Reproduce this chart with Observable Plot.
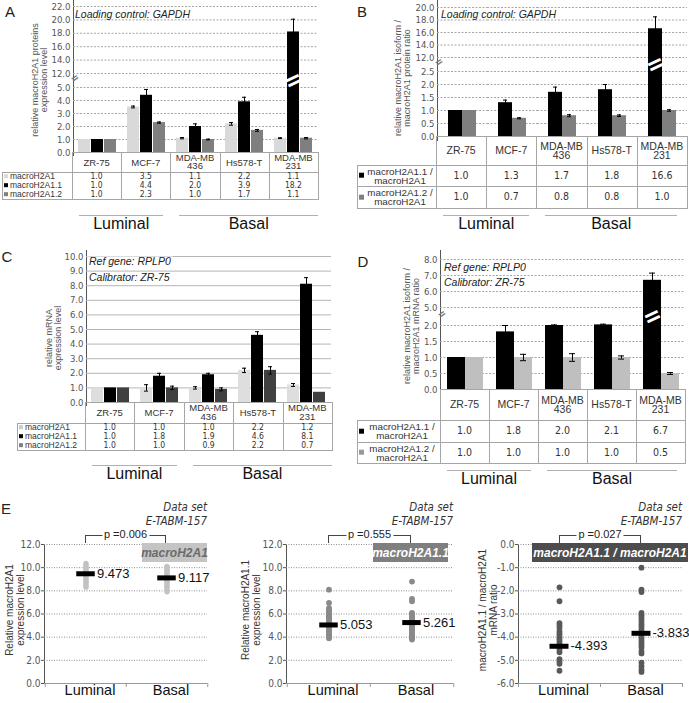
<!DOCTYPE html>
<html><head><meta charset="utf-8">
<script src="https://cdn.jsdelivr.net/npm/d3@7"></script>
<script src="https://cdn.jsdelivr.net/npm/@observablehq/plot@0.6"></script>
<style>
body{margin:0;background:#fff;}
#fig{position:relative;width:689px;height:703px;overflow:hidden;background:#fff;font-family:"Liberation Sans",Arial,sans-serif;}
#fig svg{overflow:visible}
</style></head><body><div id="fig"></div>
<script>
// ---------------- DATA ----------------
const cellLines = ["ZR-75","MCF-7","MDA-MB 436","Hs578-T","MDA-MB 231"];
const cellHeaders = ["ZR-75","MCF-7","MDA-MB\n436","Hs578-T","MDA-MB\n231"];
const subtypes = ["Luminal","Basal"];
const subtypeSizes = [2, 3];
const isoforms = ["macroH2A1","macroH2A1.1","macroH2A1.2"];
const ratios = ["macroH2A1.1 /\nmacroH2A1","macroH2A1.2 /\nmacroH2A1"];

// A: protein levels (Loading control GAPDH)
const protH2A1   = [1.0, 3.5, 1.1, 2.2, 1.1];
const protH2A11  = [1.0, 4.4, 2.0, 3.9, 18.2];
const protH2A12  = [1.0, 2.3, 1.0, 1.7, 1.1];
const protErrH2A1  = [0, 0.07, 0.05, 0.1, 0.03];
const protErrH2A11 = [0, 0.45, 0.2, 0.35, 1.9];
const protErrH2A12 = [0, 0.05, 0.03, 0.07, 0.05];
const protTicks = [0,1,2,3,4,5,12,14,16,18,20,22];

// B: protein isoform ratios
const protRatio11 = [1.0, 1.3, 1.7, 1.8, 16.6];
const protRatio12 = [1.0, 0.7, 0.8, 0.8, 1.0];
const protRatioErr11 = [0, 0.1, 0.2, 0.2, 1.9];
const protRatioErr12 = [0, 0.02, 0.04, 0.03, 0.03];
const protRatioTicks = [0,0.5,1,1.5,2,2.5,12,14,16,18,20];

// C: mRNA levels (Ref gene RPLP0)
const mrnaH2A1  = [1.0, 1.0, 1.0, 2.2, 1.2];
const mrnaH2A11 = [1.0, 1.8, 1.9, 4.6, 8.1];
const mrnaH2A12 = [1.0, 1.0, 0.9, 2.2, 0.7];
const mrnaErrH2A1  = [0, 0.22, 0.08, 0.15, 0.1];
const mrnaErrH2A11 = [0, 0.2, 0.1, 0.25, 0.45];
const mrnaErrH2A12 = [0, 0.12, 0.1, 0.25, 0];
const mrnaTicks = [0,1,2,3,4,5,6,7,8,9,10];

// D: mRNA isoform ratios
const mrnaRatio11 = [1.0, 1.8, 2.0, 2.1, 6.7];
const mrnaRatio12 = [1.0, 1.0, 1.0, 1.0, 0.5];
const mrnaRatioErr11 = [0, 0.2, 0.1, 0.12, 0.45];
const mrnaRatioErr12 = [0, 0.1, 0.12, 0.05, 0.03];
const mrnaRatioTicks = [0,0.5,1,1.5,2,5,6,7,8];

// E: data set E-TABM-157
const e1Luminal = [8.32,8.47,8.63,8.8,8.96,9.1,9.25,9.4,9.54,9.68,9.82,9.95,10.08,10.22,10.37];
const e1Basal   = [7.92,8.08,8.24,8.4,8.57,8.72,8.86,9.0,9.15,9.3,9.44,9.58,9.72,9.86,9.99,10.1];
const e1Means = [9.473, 9.117];
const e2Luminal = [8.1,6.95,6.5,6.35,6.2,6.05,5.9,5.8,5.65,5.5,5.4,5.25,5.15,5.0,4.9,4.8,4.65,4.55,4.45,4.3,4.2,4.1,4.0,3.9];
const e2Basal   = [8.8,7.3,7.1,6.1,6.0,5.85,5.7,5.6,5.5,5.35,5.2,5.1,5.0,4.9,4.75,4.6,4.5,4.4,4.25,4.1,4.0,3.9,3.8];
const e2Means = [5.053, 5.261];
const e3Luminal = [-1.85,-2.45,-3.4,-3.5,-3.6,-3.75,-3.85,-3.95,-4.05,-4.15,-4.25,-4.35,-4.45,-4.55,-4.65,-4.95,-5.05,-5.15,-5.45];
const e3Basal   = [-1.0,-1.95,-2.05,-2.95,-3.05,-3.15,-3.25,-3.35,-3.45,-3.55,-3.65,-3.75,-3.85,-3.95,-4.05,-4.15,-4.25,-4.35,-4.45,-4.6,-4.7,-5.1,-5.25,-5.4,-5.5];
const e3Means = [-4.393, -3.833];
const pValues = [0.006, 0.555, 0.027];
const eTicksPos = [0,2,4,6,8,10,12];
const eTicksNeg = [-6,-5,-4,-3,-2,-1,0];

// ---------------- HELPERS ----------------
const NARROW = '"Liberation Sans Narrow","Arial Narrow","DejaVu Sans Condensed",sans-serif';
const SANS = '"Liberation Sans",Arial,sans-serif';
const BORDER = "#a6a6a6";
const fig = document.getElementById("fig");

function txt(text, x, y, o = {}) {
  const d = document.createElement("div");
  const tx = o.anchor === "start" ? "0" : o.anchor === "end" ? "-100%" : "-50%";
  Object.assign(d.style, {
    position: "absolute", left: x + "px", top: y + "px",
    transform: `translate(${tx},-50%)` + (o.rotate ? ` rotate(${o.rotate}deg)` : ""),
    whiteSpace: "pre", fontFamily: o.family || SANS, fontSize: (o.size || 10) + "px",
    lineHeight: String(o.lh || 1.05), color: o.color || "#333",
    fontStyle: o.italic ? "italic" : "normal", fontWeight: o.bold ? "bold" : "normal",
    textAlign: o.align || "center", background: o.bg || "transparent", padding: o.pad || "0"
  });
  d.textContent = text; fig.appendChild(d); return d;
}
function rect(x, y, w, h, o = {}) {
  const d = document.createElement("div");
  Object.assign(d.style, {
    position: "absolute", left: x + "px", top: y + "px", boxSizing: "border-box",
    width: (o.fill ? w : w + 1) + "px", height: (o.fill ? h : h + 1) + "px",
    border: o.fill ? "none" : `1px solid ${o.border || BORDER}`, background: o.fill || "transparent"
  });
  fig.appendChild(d); return d;
}
function hline(x1, x2, y, color = "#aaa") { return rect(x1, y, x2 - x1, 1, {fill: color}); }
function put(node, x, y) {
  const d = document.createElement("div");
  Object.assign(d.style, {position: "absolute", left: x + "px", top: y + "px"});
  d.appendChild(node); fig.appendChild(d); return d;
}

function buildRows(series, vals, errs) {
  const rows = [];
  cellLines.forEach((c, i) => series.forEach((s, k) => rows.push({cat: c, series: s, value: vals[k][i], err: errs[k][i]})));
  return rows;
}

function barPanel(p) {
  const rows = buildRows(p.series, p.vals, p.errs);
  // broken axis: values mapped piecewise onto a continuous "virtual" axis
  const brk = d3.scaleLinear().domain(p.yDomain).range(p.yRange.map(r => p.yRange[0] - r));
  const vTop = brk(p.yDomain[p.yDomain.length - 1]);
  const gridData = p.ticks.map(t => ({t}));
  const marks = [
    Plot.ruleY(gridData, {y: d => brk(d.t), stroke: p.gridColor, strokeDasharray: p.gridDash}),
    Plot.barY(rows, {x: "series", y: d => brk(d.value), fill: "series"}),
    Plot.ruleX(rows, {filter: d => d.err > 0, x: "series", y1: d => brk(d.value - d.err), y2: d => brk(d.value + d.err), stroke: "#000"}),
    Plot.tickY(rows, {filter: d => d.err > 0, x: "series", y: d => brk(d.value + d.err), insetLeft: p.cap, insetRight: p.cap, stroke: "#000"}),
    Plot.tickY(rows, {filter: d => d.err > 0, x: "series", y: d => brk(d.value - d.err), insetLeft: p.cap, insetRight: p.cap, stroke: "#000"})
  ];
  if (p.breakLo != null) {
    const mid = brk((p.breakLo + p.breakHi) / 2);
    marks.push(Plot.text(rows, {filter: d => d.value > p.breakHi, x: "series", y: () => mid, text: () => "=",
      fill: "#fff", fontSize: 24, fontWeight: "bold", rotate: -25}));
    marks.push(Plot.text(rows, {filter: (d, i) => i === 0, y: () => mid, frameAnchor: "left", text: () => "=",
      fill: "#777", fontSize: 11, fontWeight: "bold", rotate: -35, dx: -2}));
  }
  const chart = Plot.plot({
    width: p.width, height: p.height, marginLeft: p.mL, marginRight: p.mR, marginTop: 0, marginBottom: 0,
    style: {background: "transparent", fontFamily: NARROW, fontSize: "9.5px", color: "#555", overflow: "visible"},
    facet: {data: rows, x: "cat"},
    fx: {domain: cellLines, padding: 0, axis: null, label: null},
    x: {domain: p.series, paddingInner: p.pInner, paddingOuter: p.pOuter, axis: null},
    y: {domain: [0, vTop], range: [p.yRange[0] - p.top, p.yRange[p.yRange.length - 1] - p.top],
        ticks: p.ticks.map(brk), tickFormat: v => brk.invert(v).toFixed(1),
        tickSize: 0, tickPadding: 3, label: null, line: true},
    color: {domain: p.series, range: p.colors},
    marks
  });
  put(chart, p.left, p.top);
  // data table under the chart
  const x0 = p.left + p.mL, x1 = p.left + p.width - p.mR;
  const edges = d3.range(6).map(k => x0 + k * (x1 - x0) / 5);
  drawTable({...p.table, edges, series: p.series, colors: p.markerColors || p.colors, vals: p.vals});
  // subtype group labels
  let k0 = 0;
  subtypes.forEach((g, gi) => {
    const a = edges[k0] + (gi === 0 ? 7 : 9), b = edges[k0 + subtypeSizes[gi]] - (gi === 0 ? 7 : p.groupEndInset);
    hline(a, b, p.groupY, "#b0b0b0");
    txt(g, (a + b) / 2, p.groupTextY, {size: 16, color: "#111"});
    k0 += subtypeSizes[gi];
  });
}

function drawTable(t) {
  const {edges, top, hb, rowEdges, labelLeft, series, colors, vals} = t;
  for (let j = 0; j < 5; j++) {
    rect(edges[j], top, edges[j + 1] - edges[j], hb - top);
    txt(cellHeaders[j], (edges[j] + edges[j + 1]) / 2, (top + hb) / 2 + 0.5, {size: t.hSize, lh: 0.9, color: "#333"});
  }
  const bottom = rowEdges[rowEdges.length - 1];
  rect(labelLeft, hb, edges[0] - labelLeft, bottom - hb);
  for (let j = 0; j < 5; j++) rect(edges[j], hb, edges[j + 1] - edges[j], bottom - hb);
  if (t.inner) for (let r = 1; r < rowEdges.length - 1; r++) hline(labelLeft, edges[5], rowEdges[r], BORDER);
  series.forEach((s, r) => {
    const cy = (rowEdges[r] + rowEdges[r + 1]) / 2;
    const d = document.createElement("div");
    Object.assign(d.style, {position: "absolute", left: (labelLeft + 2) + "px", top: cy + "px", transform: "translateY(-50%)",
      width: (edges[0] - labelLeft - 4) + "px", display: "flex", alignItems: "center", gap: "2px"});
    const m = document.createElement("span");
    Object.assign(m.style, {display: "inline-block", width: t.mSize + "px", height: t.mSize + "px", background: colors[r], flex: "none"});
    const l = document.createElement("span");
    Object.assign(l.style, {whiteSpace: "pre", fontSize: t.lSize + "px", lineHeight: String(t.inner ? 0.95 : 0.9), color: "#333",
      textAlign: "center", flex: t.inner ? "1" : "none"});
    l.textContent = s;
    d.appendChild(m); d.appendChild(l); fig.appendChild(d);
    for (let j = 0; j < 5; j++)
      txt(vals[r][j].toFixed(1), (edges[j] + edges[j + 1]) / 2, cy, {size: t.vSize, family: NARROW, color: "#333", lh: t.inner ? 1.05 : 0.9});
  });
}

function ePanel(p) {
  const pts = [...p.lum.map(v => ({g: "Luminal", v})), ...p.bas.map(v => ({g: "Basal", v}))];
  const meanRows = subtypes.map((g, i) => ({g, m: p.means[i]}));
  const bw = (p.width - p.mL - p.mR) / 2;
  const inset = (bw - 19) / 2;
  const y0 = p.domain[0];
  const chart = Plot.plot({
    width: p.width, height: 203, marginTop: 44, marginBottom: 20, marginLeft: p.mL, marginRight: p.mR,
    style: {background: "transparent", fontFamily: NARROW, fontSize: "10px", color: "#555", overflow: "visible"},
    x: {domain: subtypes, padding: 0, axis: null},
    y: {domain: p.domain, ticks: p.ticks, tickFormat: d => d.toFixed(1), tickSize: 3, tickPadding: 1, line: true, label: null},
    marks: [
      Plot.ruleY(p.ticks.filter(t => t !== y0), {stroke: "#8c8c8c", strokeDasharray: "1,1.5"}),
      Plot.ruleY([y0], {stroke: "#999"}),
      Plot.ruleX(subtypes, {x: d => d, dx: -bw / 2, y1: () => y0, y2: () => y0, insetBottom: -4, stroke: "#999"}),
      Plot.ruleX(subtypes.slice(1), {x: d => d, dx: bw / 2, y1: () => y0, y2: () => y0, insetBottom: -4, stroke: "#999"}),
      Plot.dot(pts, {x: "g", y: "v", r: p.r, fill: p.dotColor, stroke: "none"}),
      Plot.tickY(meanRows, {x: "g", y: "m", stroke: "#000", strokeWidth: 5, insetLeft: inset, insetRight: inset}),
      Plot.text(meanRows, {x: "g", y: "m", text: d => d.m.toFixed(3), dx: 11, textAnchor: "start", fontSize: 13, fontFamily: SANS, fill: "#111"}),
      Plot.text(subtypes, {x: d => d, frameAnchor: "bottom", dy: 11, dx: 4, text: d => d, fontSize: 14.5, fontFamily: SANS, fill: "#111"})
    ]
  });
  put(chart, p.left, 500);
  const c1 = p.left + p.mL + bw / 2, c2 = p.left + p.mL + 1.5 * bw, right = p.left + p.width - p.mR;
  txt("Data set", right, 507, {anchor: "end", italic: true, size: 11.5, family: NARROW, color: "#333"});
  txt("E-TABM-157", right, 521, {anchor: "end", italic: true, size: 11.5, family: NARROW, color: "#333"});
  const br = document.createElement("div");
  Object.assign(br.style, {position: "absolute", left: c1 + "px", top: "535px", width: (c2 - c1) + "px", height: "8px",
    borderTop: "1px solid #444", borderLeft: "1px solid #444", borderRight: "1px solid #444", boxSizing: "border-box"});
  fig.appendChild(br);
  txt("p =" + p.pv.toFixed(3), (c1 + c2) / 2, 535, {size: 11, color: "#222", bg: "#fff", pad: "0 2px"});
  rect(p.box[0], 543, p.box[1] - p.box[0], 19, {fill: p.boxFill});
  txt(p.name, (p.box[0] + p.box[1]) / 2, 552.5, {size: 12, bold: true, italic: true, color: p.boxText});
  txt(p.ylab, p.ylabX, 610, {rotate: -90, size: 10, lh: 1.1, color: "#333"});
}

// ---------------- PANELS ----------------
barPanel({left: 0, top: 0, width: 330, height: 155, mL: 72, mR: 12,
  series: isoforms, colors: ["#d9d9d9", "#000000", "#7f7f7f"],
  vals: [protH2A1, protH2A11, protH2A12], errs: [protErrH2A1, protErrH2A11, protErrH2A12],
  yDomain: [0, 5, 12, 22], yRange: [152, 87, 73, 6], ticks: protTicks, breakLo: 5, breakHi: 12,
  pInner: 0.04, pOuter: 0.38, cap: 4, gridColor: "#a6a6a6", gridDash: "2,1.5",
  table: {top: 152, hb: 172, rowEdges: [172, 181, 190, 199], labelLeft: 2, inner: false, hSize: 9.5, vSize: 8.5, lSize: 8.5, mSize: 4},
  groupY: 215, groupTextY: 224, groupEndInset: 0});
barPanel({left: 345, top: 0, width: 344, height: 140, mL: 91, mR: 2,
  series: ratios, colors: ["#000000", "#7f7f7f"],
  vals: [protRatio11, protRatio12], errs: [protRatioErr11, protRatioErr12],
  yDomain: [0, 2.5, 12, 20], yRange: [136, 71, 57, 7], ticks: protRatioTicks, breakLo: 2.5, breakHi: 12,
  pInner: 0, pOuter: 0.76, cap: 5, gridColor: "#a6a6a6", gridDash: "2,1.5",
  table: {top: 136, hb: 165, rowEdges: [165, 186, 208], labelLeft: 357, inner: true, hSize: 10.5, vSize: 10.5, lSize: 9.8, mSize: 5},
  groupY: 215, groupTextY: 224, groupEndInset: 10});
barPanel({left: 0, top: 250, width: 340, height: 155, mL: 85, mR: 8,
  series: isoforms, colors: ["#dedede", "#000000", "#404040"], markerColors: ["#cccccc", "#000000", "#808080"],
  vals: [mrnaH2A1, mrnaH2A11, mrnaH2A12], errs: [mrnaErrH2A1, mrnaErrH2A11, mrnaErrH2A12],
  yDomain: [0, 10], yRange: [402, 256], ticks: mrnaTicks,
  pInner: 0.04, pOuter: 0.33, cap: 4, gridColor: "#b5b5b5", gridDash: null,
  table: {top: 402, hb: 423, rowEdges: [423, 432, 441, 450], labelLeft: 17, inner: false, hSize: 9.5, vSize: 8.5, lSize: 8.5, mSize: 4},
  groupY: 465, groupTextY: 474, groupEndInset: 0});
barPanel({left: 345, top: 250, width: 344, height: 142, mL: 95, mR: 4,
  series: ratios, colors: ["#000000", "#bfbfbf"], markerColors: ["#000000", "#999999"],
  vals: [mrnaRatio11, mrnaRatio12], errs: [mrnaRatioErr11, mrnaRatioErr12],
  yDomain: [0, 2, 5, 8], yRange: [389, 325, 307, 259], ticks: mrnaRatioTicks, breakLo: 2, breakHi: 5,
  pInner: 0, pOuter: 0.29, cap: 6, gridColor: "#a6a6a6", gridDash: "2,1.5",
  table: {top: 389, hb: 420, rowEdges: [420, 442, 463], labelLeft: 357, inner: true, hSize: 10.5, vSize: 10.5, lSize: 9.8, mSize: 5},
  groupY: 470, groupTextY: 479, groupEndInset: 8});

txt("A", 10, 12, {size: 15, color: "#222"});
txt("B", 362, 12, {size: 15, color: "#222"});
txt("C", 7, 257, {size: 15, color: "#222"});
txt("D", 363, 262, {size: 15, color: "#222"});
txt("E", 6, 509, {size: 15, color: "#222"});
txt("Loading control: GAPDH", 75, 15, {anchor: "start", italic: true, size: 10.5, color: "#222"});
txt("Loading control: GAPDH", 441, 15, {anchor: "start", italic: true, size: 10.5, color: "#222"});
txt("Ref gene: RPLP0", 87, 262, {anchor: "start", italic: true, size: 10.5, color: "#222", bg: "#fff", pad: "0 2px"});
txt("Calibrator: ZR-75", 87, 278, {anchor: "start", italic: true, size: 10.5, color: "#222", bg: "#fff", pad: "0 2px"});
txt("Ref gene: RPLP0", 442, 268, {anchor: "start", italic: true, size: 10.5, color: "#222", bg: "#fff", pad: "0 2px"});
txt("Calibrator: ZR-75", 442, 283, {anchor: "start", italic: true, size: 10.5, color: "#222", bg: "#fff", pad: "0 2px"});
txt("relative macroH2A1 proteins\nexpression level", 40, 80, {rotate: -90, size: 9, lh: 1.05, color: "#555"});
txt("relative macroH2A1 isoform /\nmacroH2A1 protein ratio", 403, 78, {rotate: -90, size: 9, lh: 1.05, color: "#555"});
txt("relative mRNA\nexpression level", 54, 338, {rotate: -90, size: 9, lh: 1.05, color: "#555"});
txt("relative macroH2A1 isoform /\nmacroH2A1 mRNA ratio", 412, 326, {rotate: -90, size: 9, lh: 1.05, color: "#555"});

ePanel({left: 0, width: 215, mL: 44, mR: 8, lum: e1Luminal, bas: e1Basal, means: e1Means, domain: [0, 12], ticks: eTicksPos,
  r: 2.7, dotColor: "#c2c2c2", pv: pValues[0], name: "macroH2A1", box: [142, 207], boxFill: "#c4c4c4", boxText: "#6b6b6b",
  ylab: "Relative macroH2A1\nexpression level", ylabX: 15});
ePanel({left: 230, width: 230, mL: 56, mR: 7, lum: e2Luminal, bas: e2Basal, means: e2Means, domain: [0, 12], ticks: eTicksPos,
  r: 2.9, dotColor: "#8a8a8a", pv: pValues[1], name: "macroH2A1.1", box: [373, 448], boxFill: "#7f7f7f", boxText: "#ffffff",
  ylab: "Relative macroH2A1.1\nexpression level", ylabX: 251});
ePanel({left: 460, width: 229, mL: 58, mR: 7, lum: e3Luminal, bas: e3Basal, means: e3Means, domain: [-6, 0], ticks: eTicksNeg,
  r: 2.9, dotColor: "#595959", pv: pValues[2], name: "macroH2A1.1 / macroH2A1", box: [532, 688], boxFill: "#4d4d4d", boxText: "#ffffff",
  ylab: "macroH2A1.1 / macroH2A1\nmRNA ratio", ylabX: 488});
</script></body></html>
